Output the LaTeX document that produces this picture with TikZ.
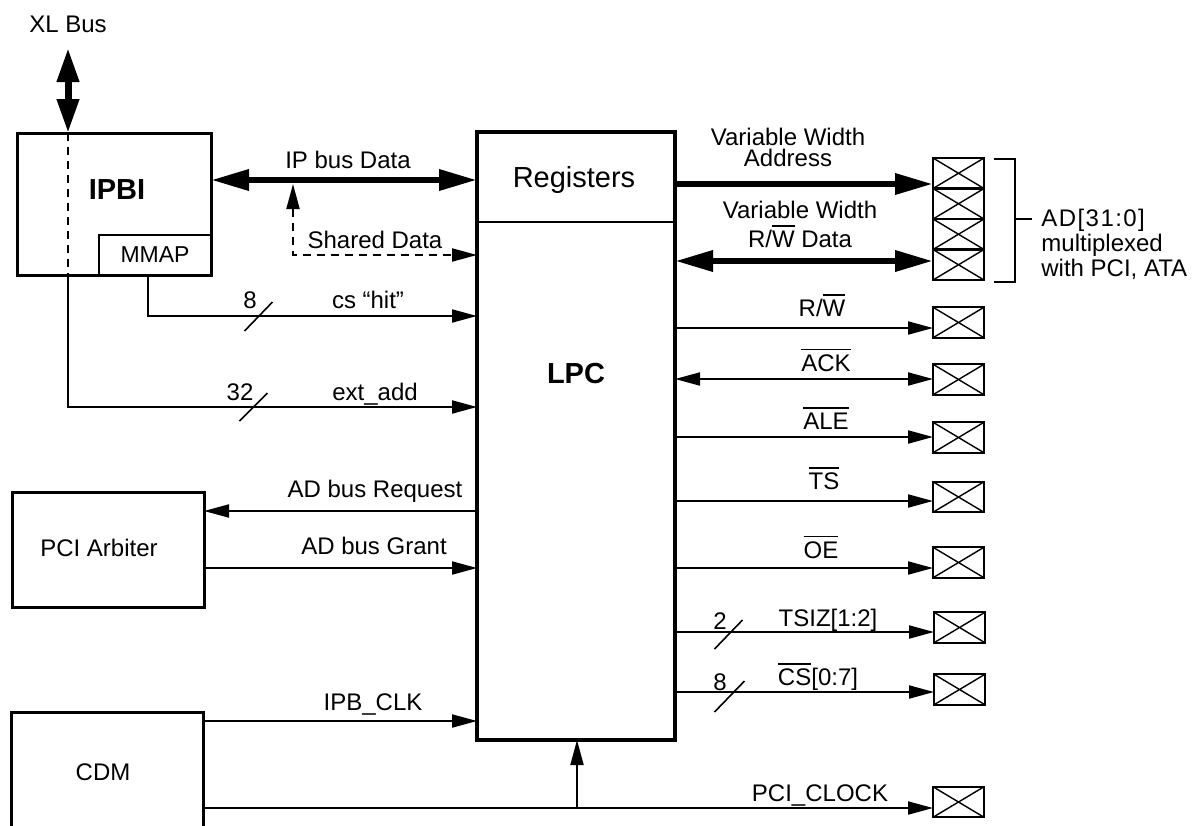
\documentclass[tikz,border=0pt]{standalone}
\usepackage{fontspec}
\setmainfont{Liberation Sans}
\usetikzlibrary{arrows.meta}
\newcommand{\myovl}[1]{\setbox0\hbox{#1}\rlap{\rule[\dimexpr\ht0+2pt\relax]{\wd0}{0.8pt}}\box0\relax}
\tikzset{
  blk/.style={draw, line width=1.5pt, inner sep=0pt, outer sep=0pt},
  lbl/.style={font=\fontsize{12}{14}\selectfont, inner sep=0pt, text height=8.6pt, text depth=0pt},
  biglbl/.style={font=\fontsize{14.5}{16}\selectfont, inner sep=0pt, text height=10.4pt, text depth=0pt},
  mlbl/.style={inner sep=0pt, align=center},
  tipthin/.tip={Triangle[length=12.5pt,width=6.5pt]},
  tipbus/.tip={Triangle[length=19pt,width=10pt]},
  sig/.style={line width=1pt, -tipthin},
  sigb/.style={line width=1pt, tipthin-tipthin},
  bus/.style={line width=3.25pt, -tipbus},
  busb/.style={line width=3.25pt, tipbus-tipbus},
  dsh/.style={line width=1pt, dash pattern=on 4pt off 3pt},
  slashmark/.style={line width=0.8pt},
  pin/.style={draw, line width=1.2pt, minimum width=25.5pt, minimum height=15.25pt, inner sep=0pt, outer sep=0pt,
    path picture={\draw[line width=0.7pt] (path picture bounding box.north west) -- (path picture bounding box.south east)
      (path picture bounding box.south west) -- (path picture bounding box.north east);}},
}
\begin{document}
\begin{tikzpicture}[x=0.5pt,y=-0.5pt]
\useasboundingbox (0,0) rectangle (1192,825);
\clip (0,0) rectangle (1192,825);

% ---------- blocks ----------
\node[blk, minimum width=97pt, minimum height=71pt, anchor=north west] (ipbi) at (17,133) {};
\node[font=\bfseries\fontsize{14.5}{16}\selectfont, inner sep=0pt] (ipbit) at (117,190) {IPBI};
\node[draw, line width=1pt, inner sep=0pt, outer sep=0pt, minimum width=56pt, minimum height=20pt,
      anchor=south east, font=\fontsize{11.5}{13}\selectfont] (mmap) at (ipbi.south east) {MMAP};

\node[draw, line width=1.75pt, inner sep=0pt, outer sep=0pt, minimum width=99pt, minimum height=304pt,
      anchor=north west] (lpc) at (477,132) {};
\draw[line width=1pt] (lpc.west |- 0,222) -- (lpc.east |- 0,222);
\node[biglbl] (regt) at (574,177) {Registers};
\node[biglbl, font=\bfseries\fontsize{14.5}{16}\selectfont] (lpct) at (576,373) {LPC};

\node[blk, minimum width=96pt, minimum height=57.5pt, anchor=north west] (arb) at (12,492) {};
\node[lbl] (arbt) at (99,548) {PCI Arbiter};

\node[blk, minimum width=96pt, minimum height=75pt, anchor=north west] (cdm) at (11,712) {};
\node[lbl] (cdmt) at (103,772) {CDM};

% ---------- pins ----------
\node[pin] (p1) at (958.5,173.25) {};
\node[pin] (p2) at (958.5,203.75) {};
\node[pin] (p3) at (958.5,234.25) {};
\node[pin] (p4) at (958.5,264.75) {};
\node[pin] (prw) at (958.5,322.5) {};
\node[pin] (pack) at (958.5,379.5) {};
\node[pin] (pale) at (958.5,437.5) {};
\node[pin] (pts) at (958.5,497) {};
\node[pin] (poe) at (958.5,562.5) {};
\node[pin] (ptsiz) at (959.5,627.5) {};
\node[pin] (pcs) at (959.5,689.5) {};
\node[pin] (pclk) at (958.5,802) {};

% bracket
\draw[line width=1.2pt] (994,159) -- (1015,159) -- (1015,282) -- (994,282);
\draw[line width=1.2pt] (1015,219) -- (1032,219);
\node[inner sep=0pt, align=left, anchor=west, font=\fontsize{12}{12.5}\selectfont] (adt) at (1041,244.5)
  {{\addfontfeature{LetterSpace=6}AD[31:0]}\\multiplexed\\with PCI, ATA};

% ---------- XL bus ----------
\coordinate (xltop) at (68,48);
\node[lbl] (xlt) at (68,24) {XL Bus};
\draw[line width=3.5pt, {Triangle[length=17pt,width=10.5pt]}-{Triangle[length=17pt,width=10.5pt]}] (xltop) -- (68,0 |- ipbi.north);
\draw[dsh] (68,0 |- ipbi.north) -- (68,0 |- ipbi.south);

% ---------- left side connectors ----------
\draw[busb] (ipbi.east |- 0,180) -- (lpc.west |- 0,180);
\node[lbl] at (348,160) {IP bus Data};

\coordinate (sj) at (293,184);
\draw[dsh, tipthin-tipthin] (sj) |- (lpc.west |- 0,255);
\node[lbl] at (375,240) {Shared Data};

\draw[sig] (148,0 |- mmap.south) |- (lpc.west |- 0,316);
\coordinate (s1) at (258.5,316);
\draw[slashmark] ([shift={(-14,15)}]s1) -- ([shift={(14,-14)}]s1);
\node[lbl] at (250,300) {8};
\node[lbl] at (368,300) {cs “hit”};

\draw[sig] (68,0 |- ipbi.south) |- (lpc.west |- 0,407);
\coordinate (s2) at (253.5,407);
\draw[slashmark] ([shift={(-14,14)}]s2) -- ([shift={(14,-14)}]s2);
\node[lbl] at (240,392) {32};
\node[lbl] at (375,392) {ext\_add};

\draw[sig] (lpc.west |- 0,511) -- (arb.east |- 0,511);
\node[lbl] at (375,489) {AD bus Request};
\draw[sig] (arb.east |- 0,568) -- (lpc.west |- 0,568);
\node[lbl] at (374,546) {AD bus Grant};

\draw[sig] (cdm.east |- 0,721) -- (lpc.west |- 0,721);
\node[lbl] at (373,702) {IPB\_CLK};

\draw[sig] (cdm.east |- 0,808) -- (pclk.west |- 0,808);
\node[lbl] at (820,793) {PCI\_CLOCK};
\coordinate (cj) at (577,808);
\draw[sig] (cj) -- (cj |- lpc.south);

% ---------- right side connectors ----------
\draw[bus] (lpc.east |- 0,184) -- (p1.west |- 0,184);
\node[mlbl, font=\fontsize{12}{10.5}\selectfont] at (788,147) {Variable Width\\Address};
\draw[busb] (lpc.east |- 0,261) -- (p4.west |- 0,261);
\node[mlbl, font=\fontsize{12}{14.5}\selectfont] at (800,224.5) {Variable Width\\R/\myovl{W} Data};

\draw[sig] (lpc.east |- 0,328) -- (prw.west |- 0,328);
\node[lbl] at (822,307.5) {R/\myovl{W}};
\draw[sigb] (lpc.east |- 0,379) -- (pack.west |- 0,379);
\node[lbl] at (826,362.5) {\myovl{ACK}};
\draw[sig] (lpc.east |- 0,437) -- (pale.west |- 0,437);
\node[lbl] at (826,421) {\myovl{ALE}};
\draw[sig] (lpc.east |- 0,501) -- (pts.west |- 0,501);
\node[lbl] at (824,481) {\myovl{TS}};
\draw[sig] (lpc.east |- 0,568) -- (poe.west |- 0,568);
\node[lbl] at (821,549.5) {\myovl{OE}};

\draw[sig] (lpc.east |- 0,632) -- (ptsiz.west |- 0,632);
\coordinate (s3) at (728.5,634);
\draw[slashmark] ([shift={(-14,15)}]s3) -- ([shift={(14,-14)}]s3);
\node[lbl] at (720,621) {2};
\node[lbl] at (828,617.5) {TSIZ[1:2]};

\draw[sig] (lpc.east |- 0,692) -- (pcs.west |- 0,692);
\coordinate (s4) at (729.5,696);
\draw[slashmark] ([shift={(-15,16)}]s4) -- ([shift={(15,-15)}]s4);
\node[lbl] at (720,682) {8};
\node[lbl] at (818,677) {\myovl{CS}[0:7]};
\end{tikzpicture}
\end{document}
